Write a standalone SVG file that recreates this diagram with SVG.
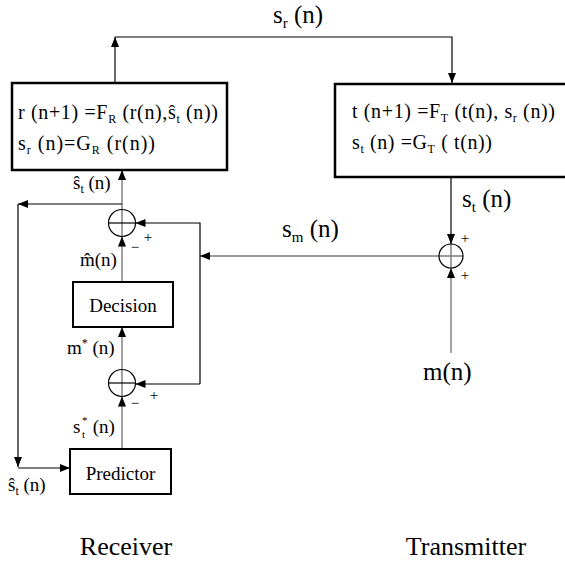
<svg xmlns="http://www.w3.org/2000/svg" width="565" height="566" viewBox="0 0 565 566">
<style>
  text { font-family: "Liberation Serif", "Times New Roman", serif; fill: #000; }
  .box { fill: #fff; stroke: #000; stroke-width: 2.5; }
  .sbox { fill: #fff; stroke: #000; stroke-width: 2; }
  .sum { fill: none; stroke: #000; stroke-width: 1.2; }
  .ln { fill: none; stroke: #000; stroke-width: 1.2; }
  .gl { fill: none; stroke: #7a7a7a; stroke-width: 1.4; }
  .bt { font-size: 20px; }
  .big { font-size: 25px; }
  .sm { font-size: 19px; }
  .lab { font-size: 26px; }
  .pm { font-size: 15px; }
</style>
<defs>
  <marker id="ah" viewBox="0 0 10 8" refX="10" refY="4" markerWidth="10" markerHeight="8" orient="auto" markerUnits="userSpaceOnUse">
    <path d="M0,0 L10,4 L0,8 z" fill="#000"/>
  </marker>
</defs>

<g id="connectors">
  <path class="ln" d="M115,83 V37" marker-end="url(#ah)"/>
  <path class="ln" d="M115,37 H452 V83" marker-end="url(#ah)"/>
  <path class="ln" d="M451,177 V244" marker-end="url(#ah)"/>
  <path class="gl" d="M451,353 V268" marker-end="url(#ah)"/>
  <path class="gl" d="M451,244 V268"/>
  <path class="gl" d="M463,256 H200" marker-end="url(#ah)"/>
  <path class="ln" d="M200,384 V223 H135.5" marker-end="url(#ah)"/>
  <path class="ln" d="M200,384 H135.5" marker-end="url(#ah)"/>
  <path class="gl" d="M122,282 V236.5" marker-end="url(#ah)"/>
  <path class="gl" d="M122,236.5 V170" marker-end="url(#ah)"/>
  <path class="ln" d="M108.5,223 H135.5"/>
  <path class="ln" d="M122,204 H18" marker-end="url(#ah)"/>
  <path class="ln" d="M18,204 V467" marker-end="url(#ah)"/>
  <path class="ln" d="M18,468 H70" marker-end="url(#ah)"/>
  <path class="gl" d="M122,449 V396.5" marker-end="url(#ah)"/>
  <path class="gl" d="M122,396.5 V369.5"/>
  <path class="gl" d="M122,369.5 V327" marker-end="url(#ah)"/>
  <path class="ln" d="M108.5,383 H135.5"/>
</g>

<g id="receiver-state">
  <rect class="box" x="12" y="83" width="215" height="87"/>
  <text class="bt" x="18" y="119" textLength="200" lengthAdjust="spacing">r (n+1) =F<tspan font-size="12" dy="4">R</tspan><tspan dy="-4"> (r(n),ŝ</tspan><tspan font-size="12" dy="4">t</tspan><tspan dy="-4"> (n))</tspan></text>
  <text class="bt" x="18" y="150" textLength="137" lengthAdjust="spacing">s<tspan font-size="12" dy="4">r</tspan><tspan dy="-4"> (n)=G</tspan><tspan font-size="12" dy="4">R</tspan><tspan dy="-4"> (r(n))</tspan></text>
</g>

<g id="transmitter-state">
  <rect class="box" x="335" y="84" width="240" height="93"/>
  <text class="bt" x="352" y="118" textLength="203" lengthAdjust="spacing">t (n+1) =F<tspan font-size="12" dy="4">T</tspan><tspan dy="-4"> (t(n), s</tspan><tspan font-size="12" dy="4">r</tspan><tspan dy="-4"> (n))</tspan></text>
  <text class="bt" x="352" y="149" textLength="140" lengthAdjust="spacing">s<tspan font-size="12" dy="4">t</tspan><tspan dy="-4"> (n) =G</tspan><tspan font-size="12" dy="4">T</tspan><tspan dy="-4"> ( t(n))</tspan></text>
</g>

<g id="sum1">
  <circle class="sum" cx="122" cy="223" r="13.5"/>
  <text class="pm" x="148" y="242" text-anchor="middle">+</text>
  <text class="pm" x="135" y="252" text-anchor="middle">−</text>
</g>

<g id="sum2">
  <circle class="sum" cx="122" cy="383" r="13.5"/>
  <text class="pm" x="154" y="400" text-anchor="middle">+</text>
  <text class="pm" x="135" y="408" text-anchor="middle">−</text>
</g>

<g id="sum3">
  <circle class="sum" cx="451" cy="256" r="12"/>
  <text class="pm" x="465" y="243" text-anchor="middle">+</text>
  <text class="pm" x="465" y="280" text-anchor="middle">+</text>
</g>

<g id="decision">
  <rect class="sbox" x="73" y="282" width="100" height="45"/>
  <text class="sm" x="123" y="312" text-anchor="middle">Decision</text>
</g>

<g id="predictor">
  <rect class="sbox" x="70" y="449" width="101" height="45"/>
  <text class="sm" x="120.5" y="480" text-anchor="middle">Predictor</text>
</g>

<g id="labels">
  <text class="big" x="273" y="23" font-size="24">s<tspan font-size="15" dy="5">r</tspan><tspan dy="-5"> (n)</tspan></text>
  <text class="big" x="462" y="207">s<tspan font-size="15" dy="5">t</tspan><tspan dy="-5"> (n)</tspan></text>
  <text class="big" x="282" y="237">s<tspan font-size="15" dy="5">m</tspan><tspan dy="-5"> (n)</tspan></text>
  <text class="big" x="423" y="380" font-size="26">m(n)</text>
  <text class="sm" x="73" y="189">ŝ<tspan font-size="12" dy="4">t</tspan><tspan dy="-4"> (n)</tspan></text>
  <text class="sm" x="80" y="266">m̂(n)</text>
  <text class="sm" x="67" y="354">m<tspan font-size="12" dy="-7">*</tspan><tspan dy="7"> (n)</tspan></text>
  <text class="sm" x="73" y="433">s<tspan font-size="11" x="82" dy="-9">*</tspan><tspan font-size="11" x="82" dy="14">t</tspan><tspan x="88" dy="-5"> (n)</tspan></text>
  <text class="sm" x="8" y="491">ŝ<tspan font-size="12" dy="4">t</tspan><tspan dy="-4"> (n)</tspan></text>
  <text class="lab" x="126" y="555" text-anchor="middle">Receiver</text>
  <text class="lab" x="466" y="555" text-anchor="middle">Transmitter</text>
</g>
</svg>
